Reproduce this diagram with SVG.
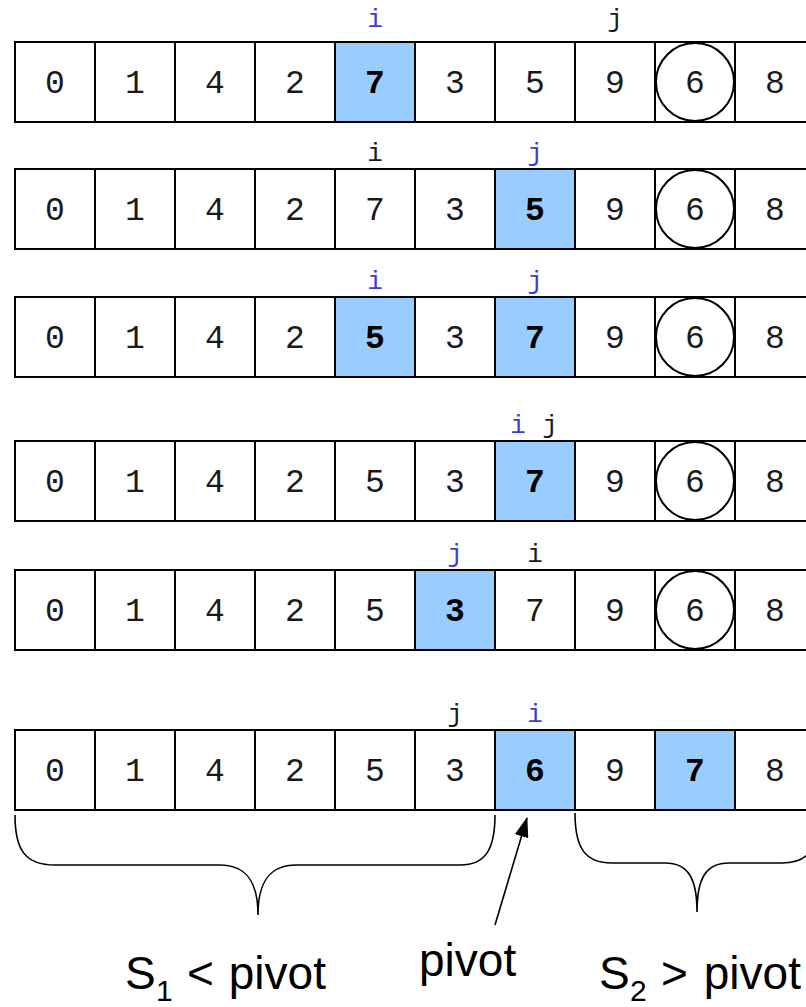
<svg xmlns="http://www.w3.org/2000/svg" width="806" height="1007" viewBox="0 0 806 1007">
<style>
.c{fill:#fff;stroke:#000;stroke-width:2}
.h{fill:#99ccff;stroke:#000;stroke-width:2}
.d{font-family:"Liberation Mono","Courier New",monospace;font-size:33px;text-anchor:middle;fill:#1a1a1a}
.b{font-weight:bold;fill:#000}
.l{font-family:"Liberation Mono","Courier New",monospace;font-size:26px;text-anchor:middle;fill:#1a1a1a}
.blue{fill:#3d3dd6}
.pv{fill:none;stroke:#000;stroke-width:2}
.br{fill:none;stroke:#000;stroke-width:1.6}
.t{font-family:"Liberation Sans",Arial,sans-serif;font-size:46px;fill:#000}
.sub{font-size:30px}
</style>
<defs>
<marker id="ah" viewBox="0 0 20 14" refX="19" refY="7" markerWidth="20" markerHeight="14" markerUnits="userSpaceOnUse" orient="auto">
<path d="M0,0 L20,7 L0,14 z" fill="#000"/>
</marker>
<g id="cells">
<rect class="c" x="15" y="0" width="80" height="80"/>
<rect class="c" x="95" y="0" width="80" height="80"/>
<rect class="c" x="175" y="0" width="80" height="80"/>
<rect class="c" x="255" y="0" width="80" height="80"/>
<rect class="c" x="335" y="0" width="80" height="80"/>
<rect class="c" x="415" y="0" width="80" height="80"/>
<rect class="c" x="495" y="0" width="80" height="80"/>
<rect class="c" x="575" y="0" width="80" height="80"/>
<rect class="c" x="655" y="0" width="80" height="80"/>
<rect class="c" x="735" y="0" width="80" height="80"/>
</g>
</defs>

<g id="row1" transform="translate(0,42)">
<use href="#cells"/>
<rect class="h" x="335" y="0" width="80" height="80"/>
<circle class="pv" cx="695" cy="40" r="39"/>
<text class="d" x="55" y="51">0</text><text class="d" x="135" y="51">1</text><text class="d" x="215" y="51">4</text><text class="d" x="295" y="51">2</text><text class="d b" x="375" y="51">7</text><text class="d" x="455" y="51">3</text><text class="d" x="535" y="51">5</text><text class="d" x="615" y="51">9</text><text class="d" x="695" y="51">6</text><text class="d" x="775" y="51">8</text>
<text class="l blue" x="375" y="-15">i</text><text class="l" x="615" y="-15">j</text>
</g>

<g id="row2" transform="translate(0,169)">
<use href="#cells"/>
<rect class="h" x="495" y="0" width="80" height="80"/>
<circle class="pv" cx="695" cy="40" r="39"/>
<text class="d" x="55" y="51">0</text><text class="d" x="135" y="51">1</text><text class="d" x="215" y="51">4</text><text class="d" x="295" y="51">2</text><text class="d" x="375" y="51">7</text><text class="d" x="455" y="51">3</text><text class="d b" x="535" y="51">5</text><text class="d" x="615" y="51">9</text><text class="d" x="695" y="51">6</text><text class="d" x="775" y="51">8</text>
<text class="l" x="375" y="-8">i</text><text class="l blue" x="535" y="-8">j</text>
</g>

<g id="row3" transform="translate(0,297)">
<use href="#cells"/>
<rect class="h" x="335" y="0" width="80" height="80"/>
<rect class="h" x="495" y="0" width="80" height="80"/>
<circle class="pv" cx="695" cy="40" r="39"/>
<text class="d" x="55" y="51">0</text><text class="d" x="135" y="51">1</text><text class="d" x="215" y="51">4</text><text class="d" x="295" y="51">2</text><text class="d b" x="375" y="51">5</text><text class="d" x="455" y="51">3</text><text class="d b" x="535" y="51">7</text><text class="d" x="615" y="51">9</text><text class="d" x="695" y="51">6</text><text class="d" x="775" y="51">8</text>
<text class="l blue" x="375" y="-8">i</text><text class="l blue" x="535" y="-8">j</text>
</g>

<g id="row4" transform="translate(0,441)">
<use href="#cells"/>
<rect class="h" x="495" y="0" width="80" height="80"/>
<circle class="pv" cx="695" cy="40" r="39"/>
<text class="d" x="55" y="51">0</text><text class="d" x="135" y="51">1</text><text class="d" x="215" y="51">4</text><text class="d" x="295" y="51">2</text><text class="d" x="375" y="51">5</text><text class="d" x="455" y="51">3</text><text class="d b" x="535" y="51">7</text><text class="d" x="615" y="51">9</text><text class="d" x="695" y="51">6</text><text class="d" x="775" y="51">8</text>
<text class="l blue" x="518" y="-8">i</text><text class="l" x="550" y="-8">j</text>
</g>

<g id="row5" transform="translate(0,570)">
<use href="#cells"/>
<rect class="h" x="415" y="0" width="80" height="80"/>
<circle class="pv" cx="695" cy="40" r="39"/>
<text class="d" x="55" y="51">0</text><text class="d" x="135" y="51">1</text><text class="d" x="215" y="51">4</text><text class="d" x="295" y="51">2</text><text class="d" x="375" y="51">5</text><text class="d b" x="455" y="51">3</text><text class="d" x="535" y="51">7</text><text class="d" x="615" y="51">9</text><text class="d" x="695" y="51">6</text><text class="d" x="775" y="51">8</text>
<text class="l blue" x="455" y="-8">j</text><text class="l" x="535" y="-8">i</text>
</g>

<g id="row6" transform="translate(0,730)">
<use href="#cells"/>
<rect class="h" x="495" y="0" width="80" height="80"/>
<rect class="h" x="655" y="0" width="80" height="80"/>
<text class="d" x="55" y="51">0</text><text class="d" x="135" y="51">1</text><text class="d" x="215" y="51">4</text><text class="d" x="295" y="51">2</text><text class="d" x="375" y="51">5</text><text class="d" x="455" y="51">3</text><text class="d b" x="535" y="51">6</text><text class="d" x="615" y="51">9</text><text class="d b" x="695" y="51">7</text><text class="d" x="775" y="51">8</text>
<text class="l" x="455" y="-8">j</text><text class="l blue" x="535" y="-8">i</text>
</g>

<g id="connectors">
<path class="br" d="M15,815 C15,850 25,865 55,865 L220,865 C245,865 258,880 258,915 C258,880 271,865 296,865 L460,865 C485,865 495,850 495,815"/>
<path class="br" d="M575,813 C575,848 585,863 612,863 L665,863 C688,863 697,878 697,912 C697,878 706,863 729,863 L782,863 C809,863 819,848 819,813"/>
<line x1="495" y1="925" x2="527" y2="818" stroke="#000" stroke-width="1.6" marker-end="url(#ah)"/>
</g>

<g id="label-s1">
<text class="t" x="125" y="989">S<tspan class="sub" x="156" y="1001">1</tspan><tspan x="187" y="989">&lt;</tspan><tspan x="216" y="989"> pivot</tspan></text>
</g>
<g id="label-pivot">
<text class="t" x="419" y="976">pivot</text>
</g>
<g id="label-s2">
<text class="t" x="599" y="989">S<tspan class="sub" x="630" y="1001">2</tspan><tspan x="661" y="989">&gt;</tspan><tspan x="691" y="989"> pivot</tspan></text>
</g>
</svg>
